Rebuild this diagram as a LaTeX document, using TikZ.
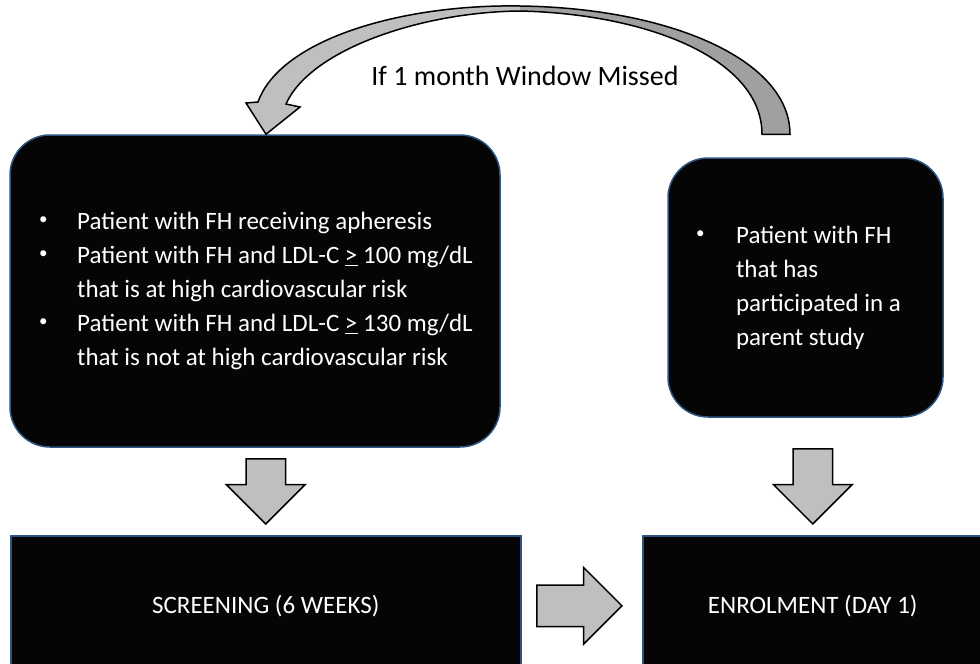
\documentclass[tikz,border=0pt]{standalone}
\usepackage{fontspec}
\setmainfont{Carlito}
\usetikzlibrary{shapes.arrows,calc,positioning}
\definecolor{boxblue}{RGB}{46,84,130}
\definecolor{boxblack}{RGB}{5,5,5}
\definecolor{arrgray}{RGB}{191,191,191}
\definecolor{tailgray}{RGB}{160,160,160}
\newcommand{\dotb}{\raisebox{5pt}{\fontsize{17}{17}\selectfont\textbullet}}

\begin{document}
\begin{tikzpicture}[x=1pt,y=-1pt,box/.style={draw=boxblue,fill=boxblack,line width=1.5pt,text=white,font=\fontsize{25}{34}\selectfont,inner sep=0pt},rbox/.style={box,rounded corners=40pt},blk/.style={single arrow,draw=black,fill=arrgray,line width=1.5pt,inner sep=19pt,single arrow head extend=19.5pt,single arrow tip angle=90,shape border rotate=270,anchor=tip},curv/.style={draw=black,line width=1.5pt}]
\useasboundingbox (0,0) rectangle (980,664);
\clip (0,0) rectangle (980,664);
\node[rbox,minimum width=490,minimum height=312](elig) at (255,291){\begin{tabular}{@{\hspace{2pt}}p{38pt}@{}l@{}}\dotb&Patient with FH receiving apheresis\\\dotb&Patient with FH and LDL-C \underline{>} 100 mg/dL\\&that is at high cardiovascular risk\\\dotb&Patient with FH and LDL-C \underline{>} 130 mg/dL\\&that is not at high cardiovascular risk\end{tabular}};
\node[rbox,minimum width=275,minimum height=259](parent) at (805.5,287.5){\begin{tabular}{@{}p{40pt}@{}l@{\hspace{14pt}}}\dotb&Patient with FH\\&that has\\&participated in a\\&parent study\end{tabular}};
\node[box,minimum width=510,minimum height=140,anchor=north west](screen) at (10,535){SCREENING (6 WEEKS)};
\node[box,minimum width=340,minimum height=140,anchor=north west](enrol) at (642,535){ENROLMENT (DAY 1)};
\node[font=\fontsize{28}{34}\selectfont](missed) at (525,76){If 1 month Window Missed};
\node[blk,minimum height=65](dnl) at ($(screen.north)+(0,-10)$){};
\node[blk,minimum height=75](dnr) at ($(enrol.north)+(0,-10)$){};
\node[blk,shape border rotate=0,minimum height=85,inner sep=20pt,single arrow head extend=17.5pt](rgt) at ($(enrol.west)+(-19,0)$){};
\coordinate (tip) at ($(elig.north)+(11,0)$);
\coordinate (tail) at ($(parent.north)+(-29.5,-23)$);
\fill[tailgray] ($(tail)+(14,0)$) .. controls (790,60) and (670,8) .. (520,6) -- (520,11) .. controls (650,14) and (762,60) .. ($(tail)+(-14,0)$) -- cycle;
\fill[arrgray] (520,6) .. controls (400,4) and (280,40) .. (258,102) -- (246,103) -- (tip) -- (300,107) -- (286,104) .. controls (310,50) and (420,12) .. (520,11) -- cycle;
\draw[curv] ($(tail)+(14,0)$) .. controls (790,60) and (670,8) .. (520,6) .. controls (400,4) and (280,40) .. (258,102) -- (246,103) -- (tip) -- (300,107) -- (286,104) .. controls (310,50) and (420,12) .. (520,11) .. controls (650,14) and (762,60) .. ($(tail)+(-14,0)$) -- cycle;
\end{tikzpicture}
\end{document}
